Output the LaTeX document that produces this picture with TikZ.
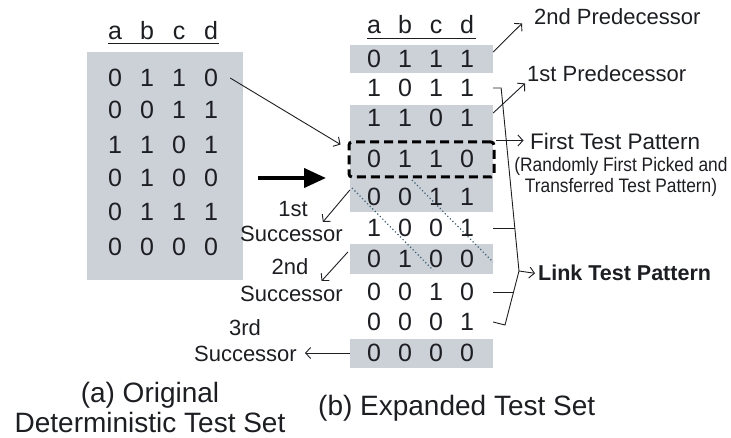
\documentclass[tikz,border=0pt]{standalone}
\usepackage{fontspec}
\setmainfont{Liberation Sans}
\newfontfamily\notefont[FakeStretch=0.89]{Liberation Sans}
\usetikzlibrary{arrows.meta}
\definecolor{cellgray}{RGB}{204,208,215}
\definecolor{ink}{RGB}{28,30,34}
\definecolor{dotink}{RGB}{60,95,115}

\begin{document}
\begin{tikzpicture}[x=1pt,y=-1pt,
  digit/.style={inner sep=0pt, text height=17.9pt, text depth=0pt,
    font=\fontsize{25}{25}\selectfont, text=ink},
  hdr/.style={inner sep=0pt, anchor=base, font=\fontsize{25}{25}\selectfont, text=ink},
  lbl/.style={inner sep=0pt, font=\fontsize{22}{22}\selectfont, text=ink},
  note/.style={inner sep=0pt, anchor=base, font=\notefont\fontsize{19.5}{19.5}\selectfont, text=ink},
  captiontext/.style={inner sep=0pt, font=\fontsize{28}{28}\selectfont, text=ink},
  thinline/.style={draw=ink, line width=0.9pt},
  tip/.style={thinline, -{Straight Barb[length=5pt,width=11pt]}},
  dots/.style={draw=dotink, line width=1.2pt, dash pattern=on 1.2pt off 2.4pt},
]
\useasboundingbox (0,0) rectangle (731,438);

% shaded cells
\fill[cellgray] (87,52) rectangle (243,280);
\fill[cellgray] (350,45) rectangle (493,73);
\fill[cellgray] (350,105) rectangle (493,212);
\fill[cellgray] (350,244) rectangle (493,274);
\fill[cellgray] (350,339) rectangle (493,368);

% column headers
\foreach \x/\t [count=\i] in {115/a,147/b,179/c,211/d}
  \node[hdr] (LH-\i) at (\x,40) {\t};
\draw[ink, line width=1.8pt] (108,43.5) -- (219,43.5);
\foreach \x/\t [count=\i] in {374/a,405/b,436/c,467/d}
  \node[hdr] (RH-\i) at (\x,34) {\t};
\draw[ink, line width=1.8pt] (367,38.5) -- (476,38.5);

% diagonal dotted guides
\draw[dots] (352,188) -- (433,270);
\draw[dots] (412,180) -- (493,262);

% original deterministic test set
\foreach \y/\a/\b/\c/\d [count=\r] in {78/0/1/1/0, 110/0/0/1/1, 145/1/1/0/1,
    178/0/1/0/0, 212/0/1/1/1, 247/0/0/0/0} {
  \node[digit] (L-\r-1) at (115,\y) {\a};
  \node[digit] (L-\r-2) at (147,\y) {\b};
  \node[digit] (L-\r-3) at (179,\y) {\c};
  \node[digit] (L-\r-4) at (211,\y) {\d};
}

% expanded test set
\foreach \y/\a/\b/\c/\d [count=\r] in {59/0/1/1/1, 88/1/0/1/1, 118/1/1/0/1,
    159/0/1/1/0, 197/0/0/1/1, 228/1/0/0/1, 259/0/1/0/0, 292/0/0/1/0,
    322/0/0/0/1, 353/0/0/0/0} {
  \node[digit] (R-\r-1) at (374,\y) {\a};
  \node[digit] (R-\r-2) at (405,\y) {\b};
  \node[digit] (R-\r-3) at (436,\y) {\c};
  \node[digit] (R-\r-4) at (467,\y) {\d};
}

% first picked pattern
\node[draw=black, line width=3pt, dash pattern=on 9pt off 5pt, rounded corners=3pt,
  minimum width=145pt, minimum height=35pt, inner sep=0pt] (first) at (421.5,159.5) {};

% labels on the right
\node[lbl, anchor=base west] (pred2) at (534,25) {2nd Predecessor};
\node[lbl, anchor=base west] (pred1) at (527,82) {1st Predecessor};
\node[lbl, anchor=base west, font=\fontsize{22.5}{22.5}\selectfont] (ftp) at (530,150) {First Test Pattern};
\node[note] (ftp1) at (621,172) {(Randomly First Picked and};
\node[note] (ftp2) at (621,193) {Transferred Test Pattern)};
\node[lbl, anchor=base west, font=\bfseries\fontsize{21.5}{21.5}\selectfont] (link) at (538,281) {Link Test Pattern};

\draw[tip] ([xshift=19pt,yshift=7pt]R-1-4.east) -- ([xshift=-12pt,yshift=2pt]pred2.south west);
\draw[tip] ([xshift=19pt,yshift=5pt]R-3-4.east) -- ([xshift=-2pt,yshift=-1pt]pred1.south west);
\draw[tip] (first.north east) -- ++(28,0);

% bracket gathering the link patterns
\coordinate (apex) at (519,271);
\draw[thinline] ([xshift=19pt]R-2-4.east) -- ++(8,0) -- (apex) -- (505,325) -- ([xshift=19pt]R-9-4.east);
\draw[thinline] ([xshift=19pt]R-6-4.east) -- (515,228);
\draw[thinline] ([xshift=19pt]R-8-4.east) -- (513,292);
\draw[tip] (apex) -- ([xshift=-3pt]link.west);

% transfer arrows
\draw[tip] ([xshift=12pt]L-1-4.east) -- ([xshift=-7pt,yshift=-4pt]first.north west);
\coordinate (bigS) at (258,178);
\coordinate (bigE) at (326,178);
\draw[black, line width=4pt, -{Triangle[length=22pt,width=19pt]}] (bigS) -- (bigE);

% successor labels
\node[lbl, anchor=base] (s1a) at (293,217) {1st};
\node[lbl, anchor=base east] (s1b) at (343,242) {Successor};
\node[lbl, anchor=base] (s2a) at (290,275) {2nd};
\node[lbl, anchor=base east] (s2b) at (343,302) {Successor};
\node[lbl, anchor=base] (s3a) at (245,335) {3rd};
\node[lbl, anchor=base east] (s3b) at (297,362) {Successor};

\draw[tip] ([xshift=-17pt,yshift=7pt]R-5-1.west) -- ([xshift=15pt,yshift=-5pt]s1a.base east);
\draw[tip] ([xshift=-19pt,yshift=7pt]R-7-1.west) -- ([xshift=13pt,yshift=-6pt]s2a.base east);
\draw[tip] ([xshift=-17pt]R-10-1.west) -- ([xshift=8pt,yshift=9pt]s3b.base east);

% captions
\node[captiontext, anchor=base] (capa1) at (150,402) {(a) Original};
\node[captiontext, anchor=base] (capa2) at (150,432) {Deterministic Test Set};
\node[captiontext, anchor=base west] (capb) at (318,415) {(b) Expanded Test Set};
\end{tikzpicture}
\end{document}
